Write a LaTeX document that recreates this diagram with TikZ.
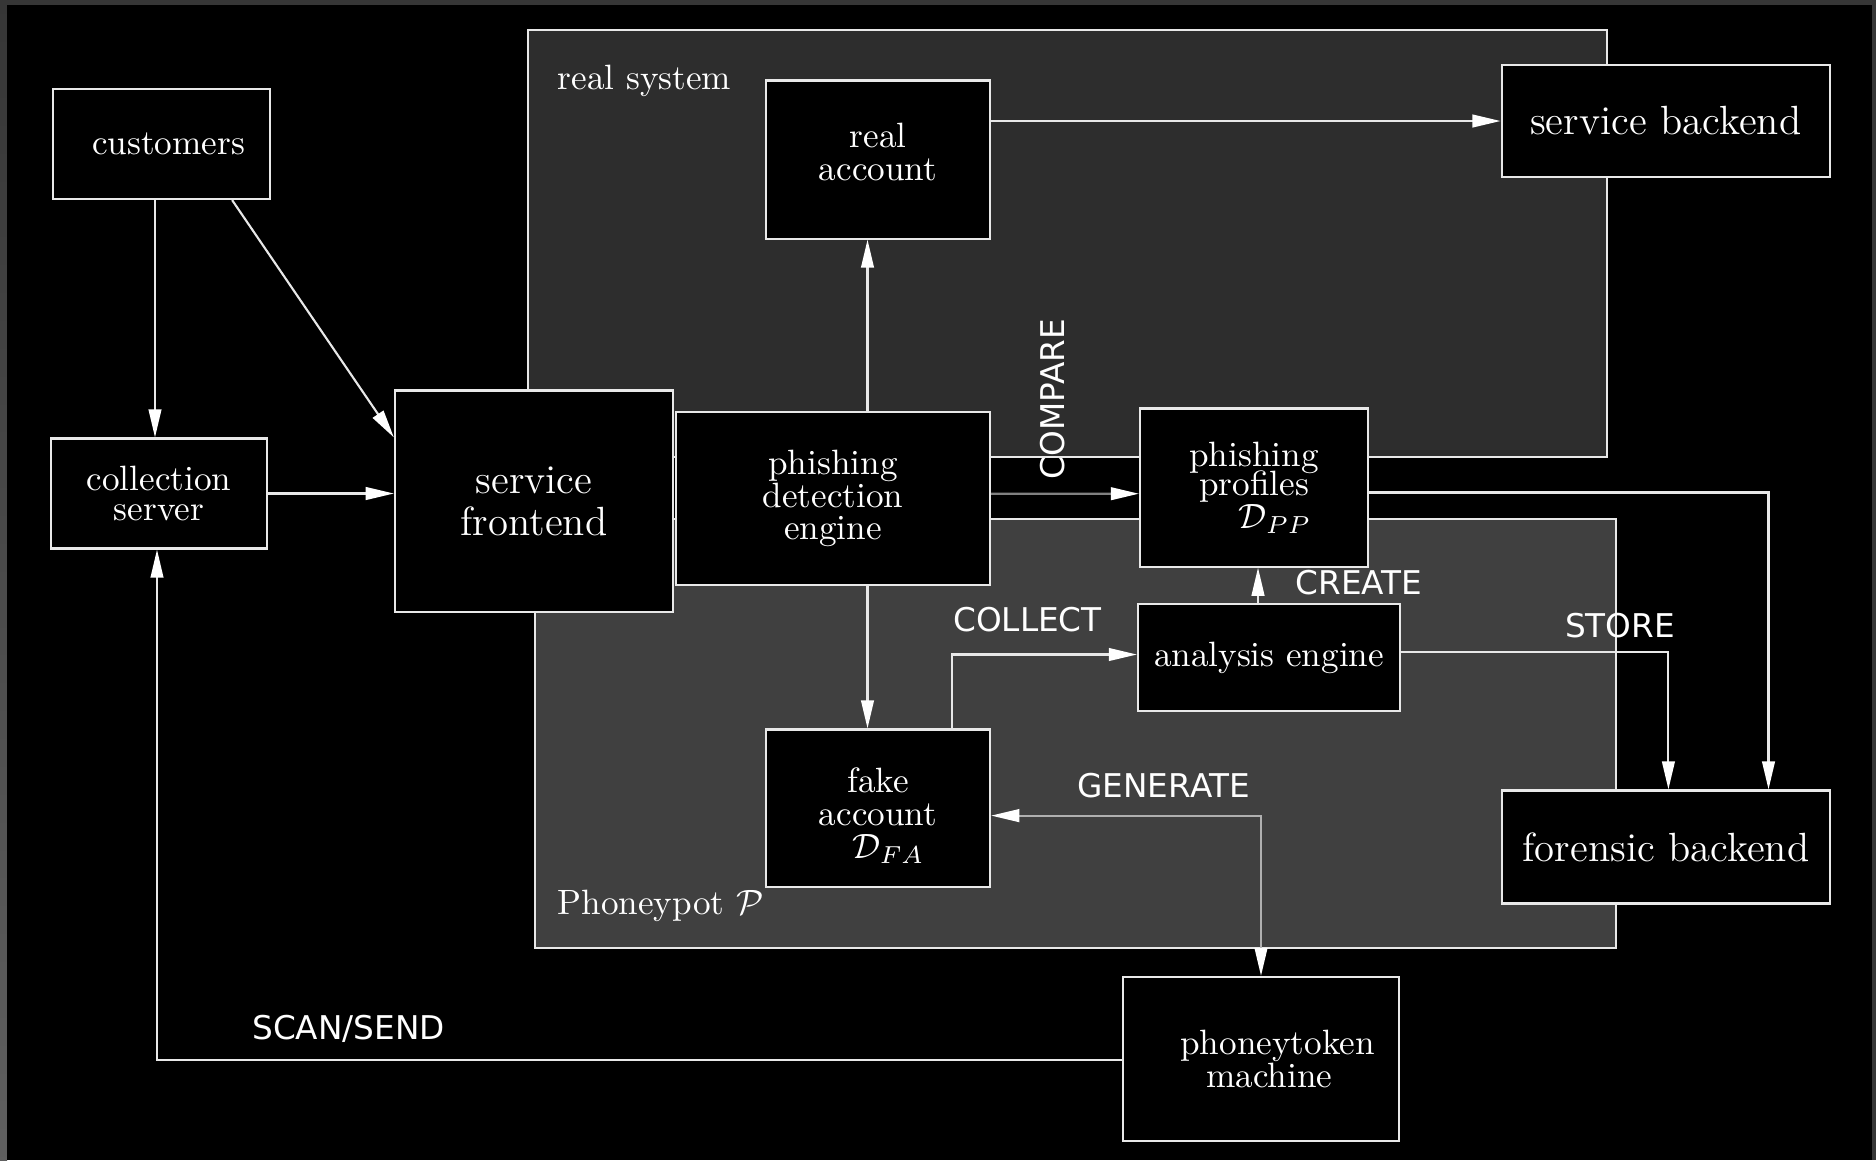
\documentclass[tikz,border=0pt]{standalone}
\usepackage{fontspec}
\newfontfamily\labelfont{DejaVu Sans}
\usetikzlibrary{arrows.meta,calc}

\definecolor{framegray}{HTML}{363636}
\definecolor{realgray}{HTML}{2D2D2D}
\definecolor{phoneygray}{HTML}{404040}
\definecolor{linewhite}{HTML}{E8E8E8}
\definecolor{cmpgray}{HTML}{808080}
\definecolor{gengray}{HTML}{B0B0B0}

\tikzset{
	box/.style={draw=linewhite, line width=0.6pt, fill=black, text=white, align=center, inner sep=2pt, font=\fontsize{10}{9.3}\selectfont},
	bigbox/.style={box, font=\fontsize{11.6}{12}\selectfont},
	region/.style={draw=linewhite, line width=0.6pt},
	flow/.style={draw=linewhite, line width=0.6pt, -{Triangle[length=8pt, width=3.6pt, color=white]}},
	twoflow/.style={draw=linewhite, line width=0.6pt, {Triangle[length=8pt, width=3.6pt, color=white]}-{Triangle[length=8pt, width=3.6pt, color=white]}},
	tag/.style={text=white, inner sep=0pt, font=\labelfont\fontsize{9.3}{10}\selectfont},
}

\begin{document}
\begin{tikzpicture}[x=0.01cm, y=-0.01cm]

		\pgfmathsetmacro{\detshift}{34.5}
		\pgfmathsetmacro{\accshift}{-10.5}

		% frame
		\fill[framegray] (0,0) rectangle (1876,1160);
		\shade[top color=framegray, bottom color=gray!75!black] (0,0) rectangle (7,1160);
		\fill[black] (7,5) rectangle (1872,1160);
		\useasboundingbox (0,0) rectangle (1876,1160);

		% real system and phoneypot
		\filldraw[region, fill=realgray] (527.6,29.9) rectangle (1607,457.3);
		\filldraw[region, fill=phoneygray] (535.4,518.6) rectangle (1615.7,948.4);
		\node[text=white, inner sep=0pt, anchor=west] (rslabel) at (557,81) {real system};
		\node[text=white, inner sep=0pt, anchor=west] (pplabel) at (557,906) {Phoneypot $\mathcal{P}$};

		% boxes
		\node[box, minimum width=2.17cm, minimum height=1.10cm] (customers) at (161.5,144) {\hspace*{4pt}customers};
		\node[box, minimum width=2.16cm, minimum height=1.10cm] (cserver) at (159,493.5) {collection\\[-1pt]server};
		\node[bigbox, minimum width=2.78cm, minimum height=2.21cm] (sfront) at (534,501) {service\\frontend};
		\node[box, minimum width=2.24cm, minimum height=1.58cm, text depth=4.5pt] (racc) at (878,159.5) {real\\account};
		\node[box, minimum width=3.14cm, minimum height=1.73cm] (detect) at (833,498.5) {phishing\\detection\\engine};
		\node[bigbox, minimum width=3.28cm, minimum height=1.12cm] (sback) at (1665.7,121) {service backend};
		\node[box, minimum width=2.28cm, minimum height=1.58cm] (profiles) at (1254,487.5) {phishing\\[-1pt]profiles\\\hspace*{1.2em}$\mathcal{D}_{PP}$};
		\node[box, minimum width=2.62cm, minimum height=1.07cm] (analysis) at (1269,657.5) {analysis engine};
		\node[box, minimum width=2.24cm, minimum height=1.57cm] (facc) at (878,808) {\rule{0pt}{11.5pt}fake\\account\\\hspace*{0.6em}$\mathcal{D}_{FA}$};
		\node[bigbox, minimum width=3.28cm, minimum height=1.13cm] (fback) at (1666,847) {forensic backend};
		\node[box, minimum width=2.75cm, minimum height=1.64cm] (ptoken) at (1261,1059) {\hspace*{9.4pt}phoneytoken\\\hspace*{4.8pt}machine};

		% arrows
		\draw[flow] ($(customers.south)+(-6.5,0)$) -- ($(cserver.north)+(-4,0)$);
		\draw[flow] ($(customers.south east)+(-39,0)$) -- ($(sfront.north west)+(0,48)$);
		\draw[flow] (cserver.east) -- (cserver.east -| sfront.west);
		\draw[flow] ($(detect.north)+(\detshift,0)$) -- ($(racc.south)+(\accshift,0)$);
		\draw[flow] (racc.east |- sback.west) -- (sback.west);
		\draw[flow, draw=cmpgray] ($(detect.east)+(0,-4.8)$) -- ($(profiles.west)+(0,6.2)$); % compare
		\draw[flow] ($(profiles.east)+(0,5)$) -| ($(fback.north)+(102.5,0)$);
		\draw[flow] ($(analysis.north)+(-11,0)$) -- ($(profiles.south)+(4,0)$); % create
		\draw[flow] ($(detect.south)+(\detshift,0)$) -- ($(facc.north)+(\accshift,0)$);
		\draw[flow] ($(facc.north)+(74,0)$) |- ($(analysis.west)+(0,-3)$); % collect
		\draw[flow] ($(analysis.east)+(0,-5.7)$) -| ($(fback.north)+(2.4,0)$); % store
		\draw[twoflow, draw=gengray] ($(facc.east)+(0,7.6)$) -| (ptoken.north); % generate
		\draw[flow] ($(ptoken.west)+(0,1)$) -| ($(cserver.south)+(-2,0)$); % scan/send

		% labels
		\node[tag, rotate=90] (compare) at (1052.7,399) {COMPARE};
		\node[tag] (create) at (1359,583) {CREATE};
		\node[tag] (collect) at (1027.5,620) {COLLECT};
		\node[tag] (store) at (1620,626) {STORE};
		\node[tag] (generate) at (1164,786) {GENERATE};
		\node[tag] (scansend) at (348.6,1029) {SCAN/SEND};

	\end{tikzpicture}
\end{document}
